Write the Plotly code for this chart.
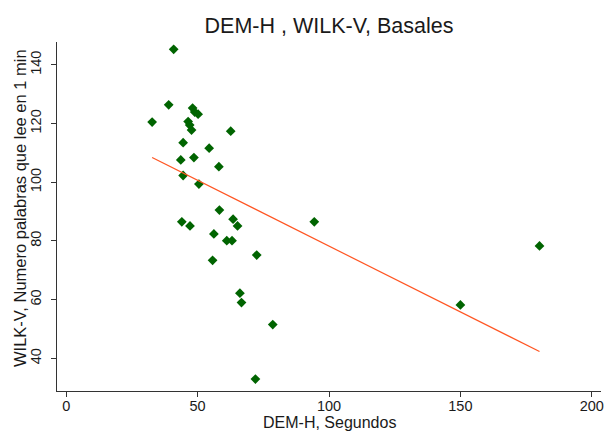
import numpy as np
import plotly.graph_objects as go

# DEM-H (seconds) and WILK-V (words read in 1 min), baseline
dem_h = [40.9, 32.7, 39.0, 48.1, 48.9, 50.2, 46.4, 47.0, 47.7, 62.6,
         44.5, 54.4, 43.6, 48.6, 58.1, 44.5, 50.5, 58.3, 44.0, 47.1,
         63.5, 65.2, 56.2, 61.1, 63.1, 55.7, 72.5, 94.4, 66.1, 66.7,
         78.6, 72.0, 180.1, 150.0]
wilk_v = [145.3, 120.5, 126.4, 125.3, 123.9, 123.2, 120.7, 119.5, 117.8, 117.4,
          113.5, 111.6, 107.6, 108.4, 105.3, 102.3, 99.4, 90.5, 86.5, 85.1,
          87.4, 85.1, 82.4, 80.1, 80.1, 73.4, 75.2, 86.5, 62.2, 59.0,
          51.5, 32.9, 78.3, 58.2]

x_ticks = [0, 50, 100, 150, 200]
y_ticks = [40, 60, 80, 100, 120, 140]

# linear fit (as in Stata lfit)
slope, intercept = np.polyfit(dem_h, wilk_v, 1)
fit_x = np.array([min(dem_h), max(dem_h)])
fit_y = intercept + slope * fit_x

FONT = "Arial, Liberation Sans, sans-serif"
TXT = "#1a1a1a"

fig = go.Figure()
fig.add_trace(go.Scatter(
    x=dem_h, y=wilk_v, mode="markers",
    marker=dict(symbol="diamond", size=7.5, color="#006400",
                line=dict(width=0)),
    showlegend=False))
fig.add_trace(go.Scatter(
    x=fit_x, y=fit_y, mode="lines",
    line=dict(color="#ff5522", width=1.2),
    showlegend=False))

fig.update_layout(
    width=607, height=431,
    margin=dict(l=57, r=6, t=42, b=40),
    paper_bgcolor="white", plot_bgcolor="white",
    font=dict(family=FONT, color=TXT),
    title=dict(text="DEM-H , WILK-V, Basales", x=0.5, xref="paper",
               y=1 - 25 / 431, yref="container", yanchor="middle",
               xanchor="center", font=dict(size=21.5, family=FONT, color=TXT)),
    xaxis=dict(range=[-3.5, 203.5], tickvals=x_ticks, ticks="outside",
               ticklen=5, tickcolor="#333", showline=True, linecolor="#333",
               linewidth=1, showgrid=False, zeroline=False,
               tickfont=dict(size=14.5), automargin=False,
               ticklabelstandoff=-3),
    yaxis=dict(range=[28.85, 147.8], tickvals=y_ticks, ticks="outside",
               ticklen=5, tickcolor="#333", showline=True, linecolor="#333",
               linewidth=1, showgrid=False, zeroline=False, tickangle=-90,
               tickfont=dict(size=14.5), automargin=False,
               ticklabelstandoff=4),
    annotations=[
        dict(text="DEM-H, Segundos", xref="paper", yref="paper",
             x=0.5, y=-(422 - 391) / 349, xanchor="center", yanchor="middle",
             showarrow=False, font=dict(size=16, color=TXT)),
        dict(text="WILK-V, Numero palabras que lee en 1 min", xref="paper",
             yref="paper", x=(20 - 57) / 544, y=(391 - 208) / 349,
             xanchor="center", yanchor="middle", textangle=-90,
             showarrow=False, font=dict(size=16.5, color=TXT)),
    ],
)

fig.write_html("out.html", config={"displayModeBar": False},
               post_script="document.body.style.margin='0';document.body.style.overflow='hidden';")
